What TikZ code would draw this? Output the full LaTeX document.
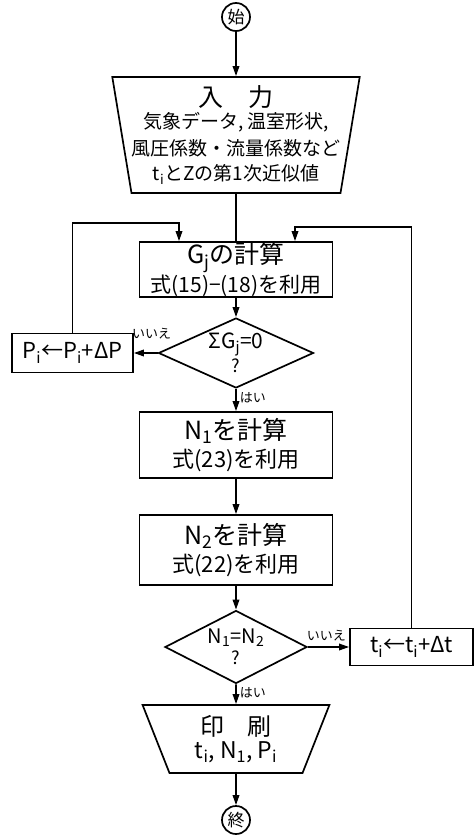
\documentclass[tikz,border=0pt]{standalone}
\usepackage{fontspec}
\setmainfont{Noto Sans CJK JP}
\usetikzlibrary{shapes.geometric,arrows.meta}
\newcommand{\fs}[1]{\fontsize{#1}{#1}\selectfont}
\newcommand{\subx}[1]{\textsubscript{#1}}
\begin{document}
\begin{tikzpicture}[x=1pt,y=-1pt, line width=1.7pt,
  >={Triangle[length=10pt,width=6.5pt]},
  term/.style={draw, circle, minimum size=28pt, inner sep=0pt, font=\fs{17}},
  procbox/.style={draw, rectangle, inner sep=0pt, align=center},
  decide/.style={draw, diamond, inner sep=0pt, aspect=2.1, align=center},
  iobox/.style={draw, trapezium, shape border rotate=180, trapezium stretches=true, inner sep=0pt, align=center},
  lbl/.style={font=\fs{13}, inner sep=0pt}]
\useasboundingbox (0,0) rectangle (475,838);
\fill[white] (0,0) rectangle (475,838);

\node[term] (start) at (236,17) {始};
\node[iobox, minimum width=238pt, minimum height=116pt,
      trapezium left angle=79, trapezium right angle=79] (input) at (236,135)
  {{\fs{25}入\quad 力}\\[3pt]
   {\fs{19}気象データ, 温室形状,}\\[6pt]
   {\fs{19}風圧係数・流量係数など}\\[6pt]
   {\fs{19}t\subx{i}とZの第1次近似値}};
\node[procbox, minimum width=193pt, minimum height=55pt] (gj) at (236,269.5)
  {{\fs{25}G\subx{j}の計算}\\[1pt]{\fs{21}式(15)−(18)を利用}};
\node[decide, minimum width=155pt, minimum height=70pt] (d1) at (236,353)
  {{\fs{21}ΣG\subx{j}=0}\\[2pt]{\fs{18}?}};
\node[procbox, minimum width=121pt, minimum height=39pt, font=\fs{22}] (pi) at (72.5,353)
  {P\subx{i}←P\subx{i}+ΔP};
\node[procbox, minimum width=193pt, minimum height=66pt] (n1) at (236,445)
  {{\fs{25}N\subx{1}を計算}\\[4pt]{\fs{22}式(23)を利用}};
\node[procbox, minimum width=193pt, minimum height=70pt] (n2) at (236,550)
  {{\fs{25}N\subx{2}を計算}\\[4pt]{\fs{22}式(22)を利用}};
\node[decide, minimum width=142pt, minimum height=73pt] (d2) at (236,647)
  {{\fs{20}N\subx{1}=N\subx{2}}\\[3pt]{\fs{18}?}};
\node[procbox, minimum width=123pt, minimum height=37pt, font=\fs{22}] (ti) at (411.5,647)
  {t\subx{i}←t\subx{i}+Δt};
\node[iobox, minimum width=187pt, minimum height=68pt,
      trapezium left angle=71, trapezium right angle=71] (print) at (236,739)
  {{\fs{24}印\quad 刷}\\[4pt]{\fs{23}t\subx{i}, N\subx{1}, P\subx{i}}};
\node[term] (stop) at (236,820) {終};

\coordinate (gjL) at (179,223);
\coordinate (gjR) at (295,227);

\draw[->] (start) -- (input);
\draw (input.south) -- (gj.north);
\draw[->] (gj) -- (d1);
\draw[->] (d1.west) -- node[lbl, above=13pt, pos=0.25] (no1) {いいえ} (pi.east);
\draw[->] (pi.north) |- (gjL) -- (gjL |- gj.north);
\draw[->] (d1.south) -- node[lbl, right=3pt, pos=0.4] (yes1) {はい} (n1.north);
\draw[->] (n1) -- (n2);
\draw[->] (n2) -- (d2);
\draw[->] (d2.east) -- node[lbl, above=5pt, pos=0.45] (no2) {いいえ} (ti.west);
\draw[->] (ti.north) |- (gjR) -- (gjR |- gj.north);
\draw[->] (d2.south) -- node[lbl, right=3pt, pos=0.4] (yes2) {はい} (print.north);
\draw[->] (print.south) -- (stop);
\end{tikzpicture}
\end{document}
